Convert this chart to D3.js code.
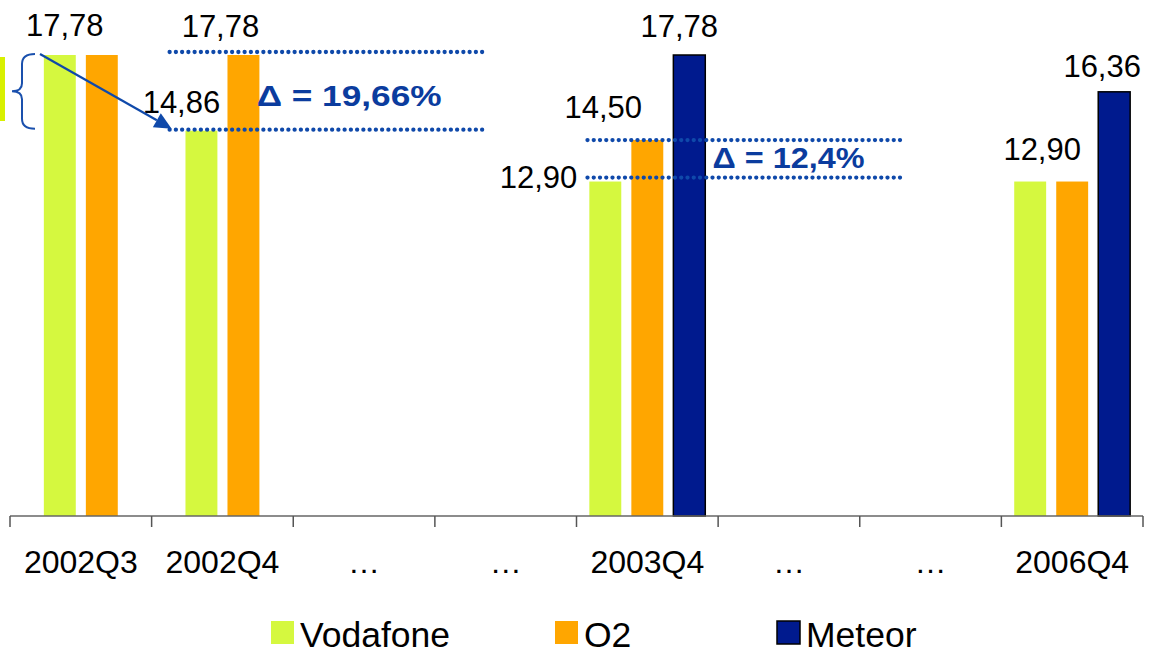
<!DOCTYPE html>
<html>
<head>
<meta charset="utf-8">
<script src="https://cdn.jsdelivr.net/npm/d3@7"></script>
<style>
body { margin: 0; background: #fff; }
svg { display: block; }
</style>
</head>
<body>
<div id="chart"></div>
<script>
// categories on the x axis (the dots are gaps in time)
var categories = ['2002Q3', '2002Q4', '…', '…', '2003Q4', '…', '…', '2006Q4'];
var seriesNames = ['Vodafone', 'O2', 'Meteor'];

var vodafone = [17.78, 14.86, null, null, 12.90, null, null, 12.90];
var o2       = [17.78, 17.78, null, null, 14.50, null, null, 12.90];
var meteor   = [null,  null,  null, null, 17.78, null, null, 16.36];

var deltaTexts = ['Δ = 19,66%', 'Δ = 12,4%'];

var W = 1153, H = 663;
var colors = {'Vodafone': '#d5f83f', 'O2': '#ffa600', 'Meteor': '#001a8e'};
var blue = '#0f49aa';

var svg = d3.select('#chart').append('svg')
	.attr('width', W)
	.attr('height', H)
	.style('font-family', 'Liberation Sans, Arial, sans-serif');

var x = d3.scaleBand()
	.domain(d3.range(categories.length))
	.range([10, 1143])
	.padding(0);

var y = d3.scaleLinear()
	.domain([0, 17.78])
	.range([516, 55]);

var values = {'Vodafone': vodafone, 'O2': o2, 'Meteor': meteor};

// one row per drawn bar
var bars = [];
categories.forEach(function(c, i) {
	var present = seriesNames.filter(function(s) { return values[s][i] != null; });
	if(present.length == 0) return;
	var step = x.bandwidth() * 0.2966;
	var groupW = step * (present.length - 0.24);
	var start = x(i) + (x.bandwidth() - groupW) / 2;
	var inner = d3.scaleBand()
		.domain(present)
		.range([start, start + groupW])
		.paddingInner(0.24)
		.paddingOuter(0);
	present.forEach(function(s) {
		bars.push({cat: i, s: s, v: values[s][i], x: inner(s), w: inner.bandwidth()});
	});
});

svg.selectAll('.bar')
	.data(bars)
		.enter()
			.append('rect')
				.attr('class', 'bar')
				.attr('x', function(d) { return d.x; })
				.attr('y', function(d) { return y(d.v); })
				.attr('width', function(d) { return d.w; })
				.attr('height', function(d) { return y(0) - y(d.v); })
				.attr('fill', function(d) { return colors[d.s]; })
				.attr('stroke', function(d) { return d.s == 'Meteor' ? '#000' : 'none'; })
				.attr('stroke-width', 1.5);

/*
 * Axis: line with ticks on the category boundaries, labels in the middle
 */
var xAxis = d3.axisBottom(x)
	.tickSize(0)
	.tickPadding(34)
	.tickFormat(function(i) { return categories[i]; });

var gx = svg.append('g')
	.attr('transform', 'translate(0,' + y(0) + ')')
	.call(xAxis);
gx.select('.domain').remove();
gx.selectAll('text')
	.attr('font-size', 32)
	.attr('font-family', 'Liberation Sans, Arial, sans-serif')
	.attr('fill', '#000');

svg.append('line')
	.attr('x1', x.range()[0]).attr('x2', x.range()[1])
	.attr('y1', y(0)).attr('y2', y(0))
	.attr('stroke', '#666').attr('stroke-width', 1.5);

var bounds = x.domain().map(function(i) { return x(i); }).concat([x.range()[1]]);
svg.selectAll('.tick-b')
	.data(bounds)
		.enter()
			.append('line')
				.attr('class', 'tick-b')
				.attr('x1', function(d) { return d; })
				.attr('x2', function(d) { return d; })
				.attr('y1', y(0))
				.attr('y2', y(0) + 11)
				.attr('stroke', '#555')
				.attr('stroke-width', 1.5);

/*
 * Value labels (only some bars carry one)
 */
var valueLabels = [
	{cat: 0, s: 'Vodafone', dx: 5, dy: -19},
	{cat: 1, s: 'Vodafone', dx: -20, dy: -18},
	{cat: 1, s: 'O2', dx: -23, dy: -18},
	{cat: 4, s: 'Vodafone', dx: -28, dy: 6, anchor: 'end'},
	{cat: 4, s: 'O2', dx: -44, dy: -22},
	{cat: 4, s: 'Meteor', dx: -10, dy: -18},
	{cat: 7, s: 'Vodafone', dx: 12, dy: -22},
	{cat: 7, s: 'Meteor', dx: -12, dy: -15}
];

var fmt = function(v) { return d3.format('.2f')(v).replace('.', ','); };

svg.selectAll('.vlabel')
	.data(valueLabels)
		.enter()
			.append('text')
				.attr('class', 'vlabel')
				.attr('font-size', 31)
				.attr('fill', '#000')
				.attr('text-anchor', function(d) { return d.anchor || 'middle'; })
				.attr('x', function(d) {
					var b = bars.filter(function(e) { return e.cat == d.cat && e.s == d.s; })[0];
					return b.x + b.w / 2 + d.dx;
				})
				.attr('y', function(d) { return y(values[d.s][d.cat]) + d.dy; })
				.text(function(d) { return fmt(values[d.s][d.cat]); });

/*
 * Delta annotations with dotted lines
 */
var deltas = [
	{hi: o2[1], lo: vodafone[1], x0: x(1) + 18, x1: x(3) + 50, tx: x(1) + 105, tw: 185, offHi: -3, offLo: -1, tdy: 15, text: deltaTexts[0]},
	{hi: o2[4], lo: vodafone[4], x0: x(4) + 11, x1: x(6) + 41, tx: x(4) + 136, tw: 152, offHi: 0, offLo: -4, tdy: 9, text: deltaTexts[1]}
];

deltas.forEach(function(d) {
	[[d.hi, d.offHi], [d.lo, d.offLo]].forEach(function(p) {
		svg.append('line')
			.attr('x1', d.x0).attr('x2', d.x1)
			.attr('y1', y(p[0]) + p[1]).attr('y2', y(p[0]) + p[1])
			.attr('stroke', blue)
			.attr('stroke-width', 4.3)
			.attr('stroke-linecap', 'round')
			.attr('stroke-dasharray', '0 6.25');
	});
	svg.append('text')
		.attr('x', d.tx)
		.attr('y', (y(d.hi) + d.offHi + y(d.lo) + d.offLo) / 2 + d.tdy)
		.attr('font-family', 'Liberation Sans, Arial, sans-serif')
		.attr('font-weight', 'bold')
		.attr('font-size', 30)
		.attr('textLength', d.tw)
		.attr('lengthAdjust', 'spacingAndGlyphs')
		.attr('fill', '#0b3c9e')
		.text(d.text);
});

// arrow from 2002Q3 Vodafone down to 2002Q4 Vodafone
var ax0 = x(0) + 30, ay0 = y(vodafone[0]) - 1;
var ax1 = x(1) + 20, ay1 = y(vodafone[1]) - 2;
var ang = Math.atan2(ay1 - ay0, ax1 - ax0);
var headL = 17, headW = 8;
var bx = ax1 - headL * Math.cos(ang), by = ay1 - headL * Math.sin(ang);
svg.append('line')
	.attr('x1', ax0).attr('y1', ay0)
	.attr('x2', bx).attr('y2', by)
	.attr('stroke', blue).attr('stroke-width', 2.2);
svg.append('path')
	.attr('d', 'M' + ax1 + ',' + ay1 +
		'L' + (bx + headW * Math.sin(ang)) + ',' + (by - headW * Math.cos(ang)) +
		'L' + (bx - headW * Math.sin(ang)) + ',' + (by + headW * Math.cos(ang)) + 'Z')
	.attr('fill', blue);

// curly brace on the left
var bTop = y(vodafone[0]) - 1, bBot = y(vodafone[1]) - 2, bMid = (bTop + bBot) / 2;
svg.append('path')
	.attr('d', 'M35,' + bTop + ' Q22,' + bTop + ' 22,' + (bTop + 10) +
		' L22,' + (bMid - 8) + ' Q22,' + bMid + ' 12,' + bMid +
		' Q22,' + bMid + ' 22,' + (bMid + 8) +
		' L22,' + (bBot - 10) + ' Q22,' + bBot + ' 35,' + bBot)
	.attr('fill', 'none')
	.attr('stroke', '#1a50ad')
	.attr('stroke-width', 2);

// cut-off shape at the left edge
svg.append('rect')
	.attr('x', 0).attr('y', 57).attr('width', 5).attr('height', 64)
	.attr('fill', '#d8f000');

/*
 * Legend
 */
var legendX = [271, 555, 777];
var lg = svg.selectAll('.legend')
	.data(seriesNames)
		.enter()
			.append('g')
				.attr('class', 'legend')
				.attr('transform', function(d, i) { return 'translate(' + legendX[i] + ',621)'; });
lg.append('rect')
	.attr('width', 23).attr('height', 23)
	.attr('fill', function(d) { return colors[d]; })
	.attr('stroke', function(d) { return d == 'Meteor' ? '#000' : 'none'; })
	.attr('stroke-width', 1.5);
lg.append('text')
	.attr('x', 29)
	.attr('y', 26)
	.attr('font-size', 35.5)
	.attr('fill', '#000')
	.text(function(d) { return d; });
</script>
</body>
</html>
